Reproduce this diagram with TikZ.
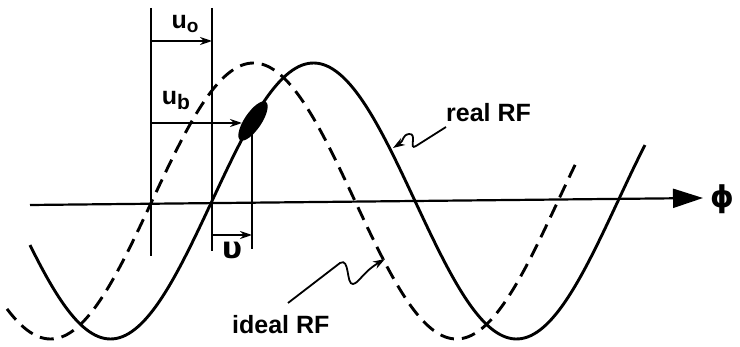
\documentclass[tikz,border=0pt]{standalone}
\usepackage{fontspec}
\setmainfont{Liberation Sans}
\newfontfamily\symfont{DejaVu Sans}
\usetikzlibrary{arrows.meta,shapes.geometric}
\begin{document}
\begin{tikzpicture}[x=1pt,y=-1pt,
  realc/.style={line width=2.9pt},
  idealc/.style={line width=2.9pt, dash pattern=on 14pt off 8pt},
  guide/.style={line width=2pt},
  dimarrow/.style={line width=1.8pt,-{Stealth[length=12pt,width=8pt]}},
  lbl/.style={font=\fontsize{25}{25}\selectfont\bfseries, inner sep=0pt},
  squig/.style={line width=1.8pt,-{Stealth[length=12pt,width=8pt]}}]
\useasboundingbox (0,0) rectangle (740,347);
% axis
\coordinate (axL) at (30,205);
\coordinate (axR) at (703,198);
\draw[line width=2.2pt,-{Triangle[length=30pt,width=19pt]}] (axL) -- (axR);
\node[inner sep=0pt] (phi) at (722,199) {\fontsize{30}{30}\selectfont\symfont\bfseries ϕ};
% curves
\draw[realc] plot[domain=30:645, samples=200, smooth] (\x, {201-138*sin((\x-212)/406*360)});
\draw[idealc] plot[domain=7:577, samples=200, smooth] (\x, {201-138*sin((\x-152)/406*360)});
% bunch
\node[ellipse, fill, minimum width=46pt, minimum height=17pt, inner sep=0pt, rotate=56] (bunch) at (253,121) {};
% vertical guides
\coordinate (g1t) at (151,8);   \coordinate (g1b) at (151,256);
\coordinate (g2t) at (212,8);   \coordinate (g2b) at (212,251);
\coordinate (g3t) at (252,134); \coordinate (g3b) at (252,249);
\draw[guide] (g1t) -- (g1b);
\draw[guide] (g2t) -- (g2b);
\draw[guide] (g3t) -- (g3b);
% dimension arrows
\coordinate (uoL) at (151,41);  \coordinate (uoR) at (212,41);
\coordinate (ubL) at (151,123); \coordinate (ubR) at (242,123);
\coordinate (vL) at (212,235);  \coordinate (vR) at (252,235);
\draw[dimarrow] (uoL) -- (uoR);
\draw[dimarrow] (ubL) -- (ubR);
\draw[dimarrow] (vL) -- (vR);
\node[lbl] (uo) at (185,24) {u\raisebox{-4pt}{\fontsize{19}{19}\selectfont o}};
\node[lbl] (ub) at (176,101) {u\raisebox{-5pt}{\fontsize{21}{21}\selectfont b}};
\node[inner sep=0pt] (nu) at (232,250) {\fontsize{30}{30}\selectfont\symfont\bfseries υ};
% labels with squiggle pointers
\node[lbl, anchor=west] (real) at (446,113) {real RF};
\node[lbl, anchor=west] (ideal) at (232,325) {ideal RF};
\coordinate (rs) at (446,127);
\coordinate (rt) at (393,148);
\draw[squig] (rs) -- (416,146) .. controls (408,151) and (418,133) .. (409,134)
  .. controls (402,135) and (404,141) .. (rt);
\coordinate (is) at (288,303);
\coordinate (it) at (385,259);
\draw[squig] (is) -- (340,263) .. controls (350,257) and (346,285) .. (353,284)
  .. controls (359,283) and (363,272) .. (it);
\end{tikzpicture}
\end{document}
